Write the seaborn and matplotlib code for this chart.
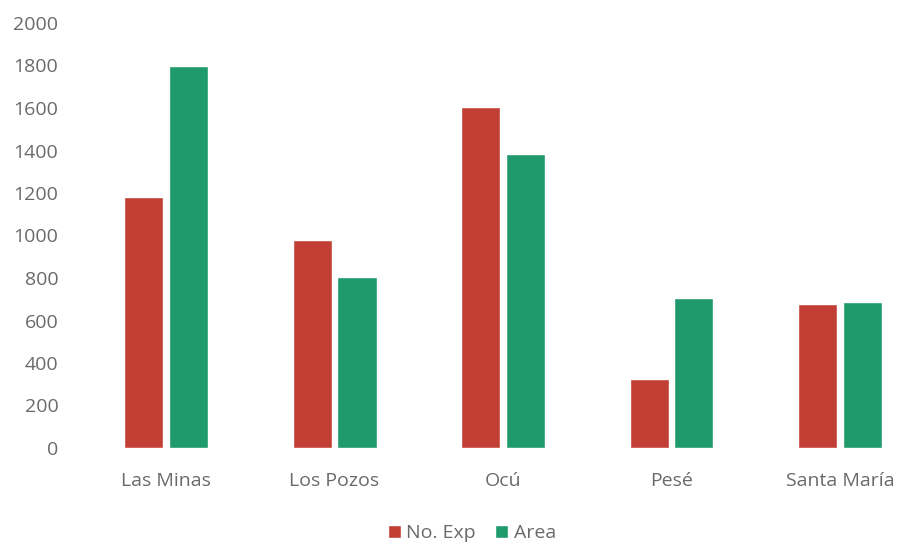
import matplotlib
matplotlib.use("Agg")
import matplotlib.pyplot as plt
import seaborn as sns
import pandas as pd

# Data
categories = ["Las Minas", "Los Pozos", "Ocú", "Pesé", "Santa María"]
no_exp = [1180, 980, 1605, 325, 680]
area = [1800, 805, 1385, 705, 688]
series_names = ["No. Exp", "Area"]
yticks = [0, 200, 400, 600, 800, 1000, 1200, 1400, 1600, 1800, 2000]

df = pd.DataFrame({
    "Municipio": categories * 2,
    "Serie": [series_names[0]] * len(categories) + [series_names[1]] * len(categories),
    "Valor": no_exp + area,
})

sns.set_theme(style="white")
plt.rcParams["font.family"] = ["Open Sans", "DejaVu Sans"]

fig = plt.figure(figsize=(9.02, 5.45), dpi=100)
ax = fig.add_axes([100 / 902, (545 - 448) / 545, 802 / 902, (448 - 23) / 545])

palette = {"No. Exp": "#C23F36", "Area": "#1F9A6C"}
sns.barplot(data=df, x="Municipio", y="Valor", hue="Serie", palette=palette,
            width=0.53, gap=0.12, saturation=1, ax=ax, legend=True)

ax.set_ylim(0, 2000)
ax.set_xlim(-0.392, 4.368)
ax.set_yticks(yticks)
ax.set_yticklabels([str(t) for t in yticks])
ax.set_xlabel("")
ax.set_ylabel("")
for s in ax.spines.values():
    s.set_visible(False)
ax.tick_params(axis="both", length=0, labelsize=14, colors="#6A6A6A")
ax.tick_params(axis="y", pad=30)
ax.tick_params(axis="x", pad=17)

leg = ax.legend(loc="center", bbox_to_anchor=(472 / 902, (545 - 533) / 545),
                bbox_transform=fig.transFigure, ncol=2, frameon=False,
                fontsize=14, handlelength=0.65, handleheight=0.65,
                handletextpad=0.3, columnspacing=1.0)
for t in leg.get_texts():
    t.set_color("#6A6A6A")

fig.savefig("out.png", dpi=100)
